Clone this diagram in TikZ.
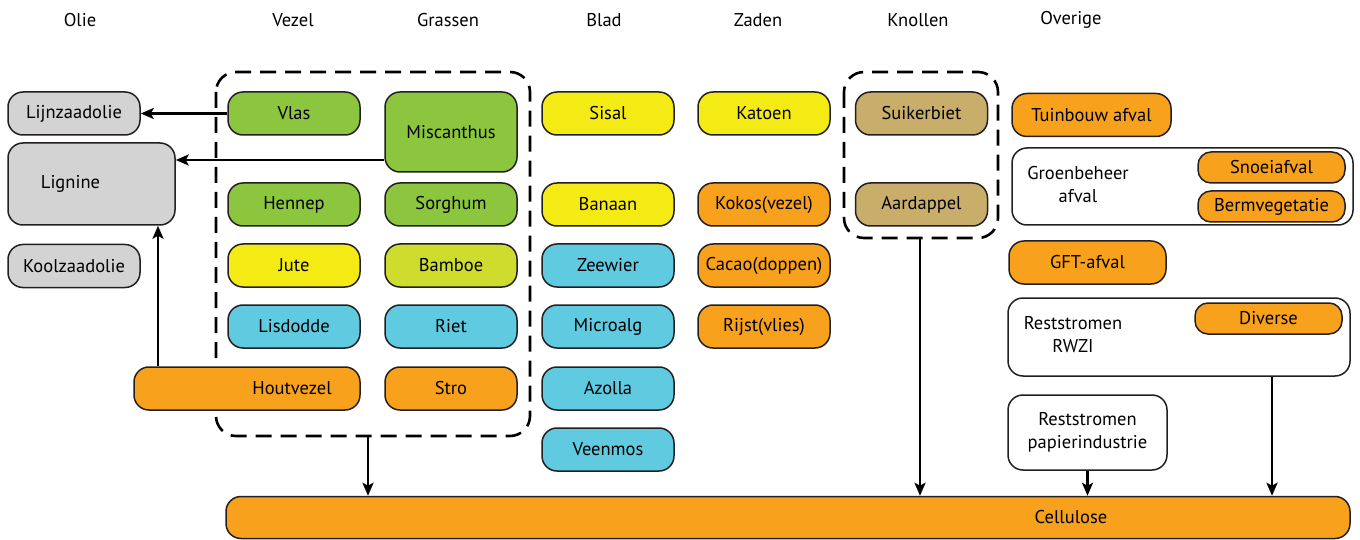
\documentclass[tikz,border=0pt]{standalone}
\usepackage{fontspec}
\setmainfont{PT Sans}
\usetikzlibrary{arrows.meta}
\definecolor{cgreen}{HTML}{8CC63F}
\definecolor{cyellow}{HTML}{F5EB14}
\definecolor{clime}{HTML}{CDDC2D}
\definecolor{cblue}{HTML}{5FCAE0}
\definecolor{corange}{HTML}{F7A11D}
\definecolor{cgray}{HTML}{D3D3D3}
\definecolor{ckhaki}{HTML}{C8AD6B}
\definecolor{cedge}{HTML}{231F20}
\begin{document}
\begin{tikzpicture}[x=1pt,y=-1pt,
  font=\fontsize{18.5}{23}\selectfont,
  box/.style={draw=cedge, line width=1.5pt, rounded corners=15pt, minimum width=132pt, minimum height=43pt, inner sep=0pt, align=center},
  gbox/.style={box, fill=cgreen},
  ybox/.style={box, fill=cyellow},
  lbox/.style={box, fill=clime},
  bbox/.style={box, fill=cblue},
  obox/.style={box, fill=corange},
  grbox/.style={box, fill=cgray},
  kbox/.style={box, fill=ckhaki},
  wbox/.style={box, fill=white},
  head/.style={inner sep=0pt},
  group/.style={draw=black, line width=2.6pt, dash pattern=on 16pt off 9pt, rounded corners=20pt},
  flow/.style={draw=black, line width=2.8pt, -{Stealth[length=13pt,width=11pt,inset=3pt]}},
  ]
\useasboundingbox (0,0) rectangle (1360,540);

% column headings
\node[head] (hOlie) at (80,20) {Olie};
\node[head] (hVezel) at (293,20) {Vezel};
\node[head] (hGras) at (448,20) {Grassen};
\node[head] (hBlad) at (604,20) {Blad};
\node[head] (hZaden) at (758,20) {Zaden};
\node[head] (hKnol) at (918,20) {Knollen};
\node[head] (hOver) at (1071,20) {Overige};

% dashed groups
\draw[group] (216,72) rectangle (530,436);
\draw[group] (844,72) rectangle (998,238);
\coordinate (vgBottom) at (368,436);
\coordinate (knBottom) at (920,238);

% Olie
\node[grbox] (lijn) at (74,113.5) {Lijnzaadolie};
\node[grbox, minimum width=167pt, minimum height=82pt,
      label={[xshift=-21pt]center:Lignine}] (lig) at (91.5,184) {};
\node[grbox] (kool) at (74,266) {Koolzaadolie};

% Vezel
\node[gbox] (vlas) at (294,113.5) {Vlas};
\node[gbox] (hennep) at (294,204.5) {Hennep};
\node[ybox] (jute) at (294,265.5) {Jute};
\node[bbox] (lisd) at (294,326.5) {Lisdodde};
\node[obox, minimum width=226pt,
      label={[xshift=45pt]center:Houtvezel}] (hout) at (247,388.5) {};

% Grassen
\node[gbox, minimum height=80pt] (misc) at (451,132) {Miscanthus};
\node[gbox] (sorg) at (451,204.5) {Sorghum};
\node[lbox] (bamb) at (451,265.5) {Bamboe};
\node[bbox] (riet) at (451,326.5) {Riet};
\node[obox] (stro) at (451,388.5) {Stro};

% Blad
\node[ybox] (sisal) at (608,113.5) {Sisal};
\node[ybox] (banaan) at (608,204.5) {Banaan};
\node[bbox] (zeew) at (608,265.5) {Zeewier};
\node[bbox] (micro) at (608,326.5) {Microalg};
\node[bbox] (azolla) at (608,388.5) {Azolla};
\node[bbox] (veen) at (608,449.5) {Veenmos};

% Zaden
\node[ybox] (katoen) at (764,113.5) {Katoen};
\node[obox] (kokos) at (764,204.5) {Kokos(vezel)};
\node[obox] (cacao) at (764,265.5) {Cacao(doppen)};
\node[obox] (rijst) at (764,326.5) {Rijst(vlies)};

% Knollen
\node[kbox] (suiker) at (921.5,113.5) {Suikerbiet};
\node[kbox] (aard) at (921.5,204.5) {Aardappel};

% Overige
\node[obox, minimum width=159pt] (tuin) at (1091.5,115) {Tuinbouw afval};
\node[wbox, minimum width=341pt, minimum height=77pt] (groen) at (1182.5,186.5) {};
\node[align=center, inner sep=0pt] (groenT) at (1078,185) {Groenbeheer\\afval};
\node[obox, minimum width=147pt, minimum height=31pt, rounded corners=13pt] (snoei) at (1271.5,167.5) {Snoeiafval};
\node[obox, minimum width=147pt, minimum height=31pt, rounded corners=13pt] (berm) at (1271.5,206.5) {Bermvegetatie};
\node[obox, minimum width=157pt] (gft) at (1087.5,262.5) {GFT-afval};
\node[wbox, minimum width=342pt, minimum height=78pt] (rwzi) at (1179,337) {};
\node[align=center, inner sep=0pt] (rwziT) at (1073,335) {Reststromen\\RWZI};
\node[obox, minimum width=147pt, minimum height=31pt, rounded corners=13pt] (div) at (1268.5,318.5) {Diverse};
\node[wbox, minimum width=159pt, minimum height=75pt] (papier) at (1087.5,432.5) {Reststromen\\papierindustrie};

% Cellulose
\node[obox, minimum width=1124pt, minimum height=42pt,
      label={[xshift=283pt]center:Cellulose}] (cell) at (788,517.5) {};

% flows
\draw[flow] (vlas.west) -- (lijn.east);
\draw[flow] (misc.west |- 0,160) -- (lig.east |- 0,160);
\draw[flow] (hout.north -| 158,0) -- (lig.south -| 158,0);
\draw[flow] (vgBottom) -- (cell.north -| vgBottom);
\draw[flow] (knBottom) -- (cell.north -| knBottom);
\draw[flow] (papier.south) -- (cell.north -| papier.south);
\draw[flow] (rwzi.south -| 1272,0) -- (cell.north -| 1272,0);
\end{tikzpicture}
\end{document}
